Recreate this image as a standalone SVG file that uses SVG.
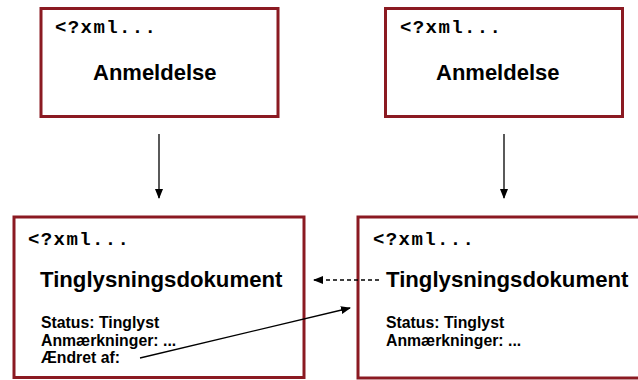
<svg xmlns="http://www.w3.org/2000/svg" width="638" height="380" viewBox="0 0 638 380">
<style>
.box{fill:#fff;stroke:#8b1a22;stroke-width:3}
.code{font-family:"Liberation Mono","Courier New",monospace;font-weight:bold;font-size:19px;letter-spacing:1.4px;fill:#000}
.title{font-family:"Liberation Sans",Arial,sans-serif;font-weight:bold;font-size:22px;fill:#000}
.big{font-family:"Liberation Sans",Arial,sans-serif;font-weight:bold;font-size:22.2px;fill:#000}
.small{font-family:"Liberation Sans",Arial,sans-serif;font-weight:bold;font-size:15.8px;fill:#000}
.conn{stroke:#000;stroke-width:1.3;fill:none}
</style>
<defs>
<marker id="ah" markerWidth="10" markerHeight="8" refX="9" refY="4" orient="auto" markerUnits="userSpaceOnUse">
<path d="M0,0 L10,4 L0,8 Z" fill="#000"/>
</marker>
</defs>
<rect width="638" height="380" fill="#fff"/>
<g id="anmeldelse1">
<rect class="box" x="41" y="8.5" width="237" height="108"/>
<text class="code" x="55" y="33">&lt;?xml...</text>
<text class="title" x="93" y="80">Anmeldelse</text>
</g>
<g id="anmeldelse2">
<rect class="box" x="385.5" y="8.5" width="237" height="108"/>
<text class="code" x="400" y="33">&lt;?xml...</text>
<text class="title" x="436" y="80">Anmeldelse</text>
</g>
<g id="tinglysning1">
<rect class="box" x="14" y="217" width="290" height="160.5"/>
<text class="code" x="28" y="245">&lt;?xml...</text>
<text class="big" x="40" y="287">Tinglysningsdokument</text>
<text class="small" x="41" y="328">Status: Tinglyst</text>
<text class="small" x="41" y="345.5">Anmærkninger: ...</text>
<text class="small" x="41" y="363">Ændret af:</text>
</g>
<g id="tinglysning2">
<rect class="box" x="358" y="217" width="300" height="161"/>
<text class="code" x="373" y="245">&lt;?xml...</text>
<text class="big" x="386" y="287">Tinglysningsdokument</text>
<text class="small" x="386" y="328">Status: Tinglyst</text>
<text class="small" x="386" y="345.5">Anmærkninger: ...</text>
</g>
<g id="connectors">
<line class="conn" x1="159" y1="134" x2="159" y2="198" marker-end="url(#ah)"/>
<line class="conn" x1="504" y1="134" x2="504" y2="198" marker-end="url(#ah)"/>
<line class="conn" x1="379" y1="280" x2="314" y2="280" stroke-dasharray="4,3" marker-end="url(#ah)"/>
<line class="conn" x1="140" y1="358" x2="350" y2="308" marker-end="url(#ah)"/>
</g>
</svg>
